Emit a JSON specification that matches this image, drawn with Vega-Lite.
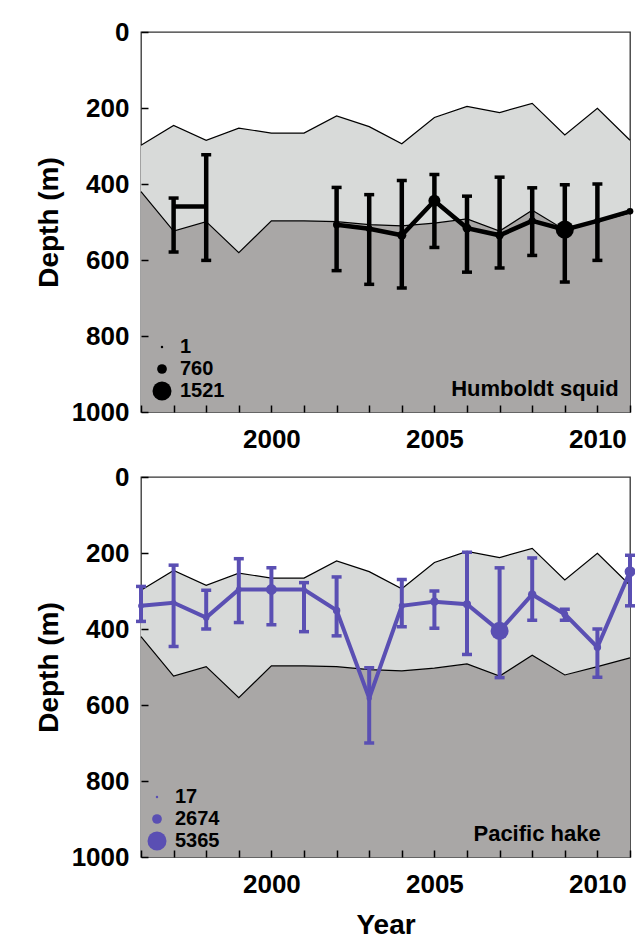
{
  "$schema": "https://vega.github.io/schema/vega-lite/v6.json",
  "background": "white",
  "padding": {"left": 34, "top": 18, "right": 5, "bottom": 5},
  "spacing": 65,
  "bounds": "flush",
  "resolve": {"scale": {"size": "independent"}, "legend": {"size": "independent"}},
  "datasets": {
    "boundary": [
      {"year": 1996, "upper": 298, "lower": 420},
      {"year": 1997, "upper": 246, "lower": 524},
      {"year": 1998, "upper": 285, "lower": 499},
      {"year": 1999, "upper": 253, "lower": 581},
      {"year": 2000, "upper": 266, "lower": 497},
      {"year": 2001, "upper": 266, "lower": 497},
      {"year": 2002, "upper": 221, "lower": 499},
      {"year": 2003, "upper": 249, "lower": 507},
      {"year": 2004, "upper": 294, "lower": 510},
      {"year": 2005, "upper": 225, "lower": 503},
      {"year": 2006, "upper": 196, "lower": 492},
      {"year": 2007, "upper": 212, "lower": 524},
      {"year": 2008, "upper": 188, "lower": 469},
      {"year": 2009, "upper": 271, "lower": 521},
      {"year": 2010, "upper": 201, "lower": 499},
      {"year": 2011, "upper": 285, "lower": 476}
    ],
    "squid": [
      {"year": 1997, "mean": 459, "lo": 437, "hi": 579, "n": 1, "seg": "a"},
      {"year": 1998, "mean": 459, "lo": 323, "hi": 601, "n": 1, "seg": "a"},
      {"year": 2002, "mean": 507, "lo": 409, "hi": 628, "n": 550, "seg": "b"},
      {"year": 2003, "mean": 518, "lo": 428, "hi": 664, "n": 500, "seg": "b"},
      {"year": 2004, "mean": 535, "lo": 391, "hi": 674, "n": 700, "seg": "b"},
      {"year": 2005, "mean": 444, "lo": 375, "hi": 567, "n": 950, "seg": "b"},
      {"year": 2006, "mean": 516, "lo": 432, "hi": 632, "n": 700, "seg": "b"},
      {"year": 2007, "mean": 535, "lo": 382, "hi": 621, "n": 650, "seg": "b"},
      {"year": 2008, "mean": 497, "lo": 410, "hi": 588, "n": 550, "seg": "b"},
      {"year": 2009, "mean": 520, "lo": 402, "hi": 658, "n": 1450, "seg": "b"},
      {"year": 2010, "mean": 497, "lo": 400, "hi": 601, "n": 450, "seg": "b"},
      {"year": 2011, "mean": 472, "lo": null, "hi": null, "n": 500, "seg": "b"}
    ],
    "hake": [
      {"year": 1996, "mean": 339, "lo": 288, "hi": 380, "n": 1500},
      {"year": 1997, "mean": 331, "lo": 232, "hi": 446, "n": 1400},
      {"year": 1998, "mean": 370, "lo": 298, "hi": 400, "n": 1700},
      {"year": 1999, "mean": 296, "lo": 215, "hi": 383, "n": 1500},
      {"year": 2000, "mean": 296, "lo": 239, "hi": 389, "n": 3000},
      {"year": 2001, "mean": 296, "lo": 278, "hi": 407, "n": 1300},
      {"year": 2002, "mean": 351, "lo": 263, "hi": 418, "n": 2000},
      {"year": 2003, "mean": 582, "lo": 502, "hi": 700, "n": 1300},
      {"year": 2004, "mean": 339, "lo": 270, "hi": 394, "n": 1600},
      {"year": 2005, "mean": 328, "lo": 300, "hi": 398, "n": 2200},
      {"year": 2006, "mean": 335, "lo": 198, "hi": 467, "n": 2200},
      {"year": 2007, "mean": 405, "lo": 239, "hi": 528, "n": 5100},
      {"year": 2008, "mean": 309, "lo": 213, "hi": 377, "n": 2300},
      {"year": 2009, "mean": 361, "lo": 348, "hi": 377, "n": 1800},
      {"year": 2010, "mean": 448, "lo": 400, "hi": 527, "n": 2000},
      {"year": 2011, "mean": 249, "lo": 206, "hi": 339, "n": 3000}
    ]
  },
  "config": {
    "view": {"stroke": "#333", "strokeWidth": 1.3},
    "font": "Liberation Sans",
    "axis": {
      "labelFont": "Liberation Sans", "labelFontSize": 26, "labelFontWeight": "bold", "labelColor": "#000",
      "titleFont": "Liberation Sans", "titleFontSize": 28, "titleFontWeight": "bold", "titleColor": "#000",
      "domain": false, "tickColor": "#000", "tickWidth": 1.5, "tickSize": 7, "offset": -7,
      "grid": false, "ticks": true
    },
    "axisY": {"labelPadding": 12, "titlePadding": 8},
    "axisX": {"labelPadding": 14, "titlePadding": 14},
    "legend": {
      "labelFont": "Liberation Sans", "labelFontSize": 20, "labelFontWeight": "bold", "labelColor": "#000",
      "orient": "bottom-left", "padding": 0, "rowPadding": 2, "labelOffset": 8, "symbolType": "circle",
      "symbolStrokeWidth": 0
    }
  },
  "vconcat": [
    {
      "width": 489, "height": 380,
      "encoding": {
        "x": {"field": "year", "type": "quantitative", "title": null,
          "scale": {"domain": [1996, 2011], "nice": false, "zero": false},
          "axis": {"zindex": 1, "values": [1996,1997,1998,1999,2000,2001,2002,2003,2004,2005,2006,2007,2008,2009,2010,2011], "format": "d",
            "labelExpr": "datum.value % 5 === 0 ? datum.label : ''"}}
      },
      "layer": [
        {"data": {"name": "boundary"}, "mark": {"type": "area", "color": "#a9a7a6"},
          "encoding": {
            "y": {"field": "lower", "type": "quantitative", "title": "Depth (m)",
              "scale": {"domain": [0, 1000], "reverse": true, "nice": false, "zero": false},
              "axis": {"zindex": 1, "values": [0,100,200,300,400,500,600,700,800,900,1000], "format": "d",
                "labelExpr": "datum.value % 200 === 0 ? datum.label : ''"}},
            "y2": {"datum": 1000}}},
        {"data": {"name": "boundary"}, "mark": {"type": "area", "color": "#d8dad9"},
          "encoding": {"y": {"field": "upper", "type": "quantitative", "title": "Depth (m)"}, "y2": {"field": "lower"}}},
        {"data": {"name": "boundary"}, "mark": {"type": "line", "color": "#000", "strokeWidth": 1.2},
          "encoding": {"y": {"field": "upper", "type": "quantitative", "title": "Depth (m)"}}},
        {"data": {"name": "boundary"}, "mark": {"type": "line", "color": "#000", "strokeWidth": 1.2},
          "encoding": {"y": {"field": "lower", "type": "quantitative", "title": "Depth (m)"}}},
        {"data": {"name": "squid"}, "mark": {"type": "rule", "color": "#000", "strokeWidth": 4.5},
          "encoding": {"y": {"field": "lo", "type": "quantitative", "title": "Depth (m)"}, "y2": {"field": "hi"}}},
        {"data": {"name": "squid"}, "mark": {"type": "tick", "orient": "horizontal", "color": "#000", "size": 10, "thickness": 3.5, "opacity": 1},
          "encoding": {"y": {"field": "lo", "type": "quantitative", "title": "Depth (m)"}}},
        {"data": {"name": "squid"}, "mark": {"type": "tick", "orient": "horizontal", "color": "#000", "size": 10, "thickness": 3.5, "opacity": 1},
          "encoding": {"y": {"field": "hi", "type": "quantitative", "title": "Depth (m)"}}},
        {"data": {"name": "squid"}, "mark": {"type": "line", "color": "#000", "strokeWidth": 4.5},
          "encoding": {"y": {"field": "mean", "type": "quantitative", "title": "Depth (m)"}, "detail": {"field": "seg"}}},
        {"data": {"name": "squid"}, "mark": {"type": "point", "shape": "circle", "filled": true, "color": "#000", "opacity": 1},
          "encoding": {
            "y": {"field": "mean", "type": "quantitative", "title": "Depth (m)"},
            "size": {"field": "n", "type": "quantitative",
              "scale": {"type": "pow", "exponent": 2, "domain": [0, 1521], "range": [6, 361]},
              "legend": {"title": null, "values": [1, 760, 1521], "format": "d", "offset": 11, "symbolFillColor": "#000"}}}},
        {"data": {"values": [{"label": "Humboldt squid", "year": 2010.65, "depth": 958}]},
          "mark": {"type": "text", "align": "right", "baseline": "alphabetic", "font": "Liberation Sans", "fontSize": 22, "fontWeight": "bold", "color": "#000"},
          "encoding": {"y": {"field": "depth", "type": "quantitative", "title": "Depth (m)"}, "text": {"field": "label"}}}
      ]
    },
    {
      "width": 489, "height": 380,
      "encoding": {
        "x": {"field": "year", "type": "quantitative", "title": "Year",
          "scale": {"domain": [1996, 2011], "nice": false, "zero": false},
          "axis": {"zindex": 1, "values": [1996,1997,1998,1999,2000,2001,2002,2003,2004,2005,2006,2007,2008,2009,2010,2011], "format": "d",
            "labelExpr": "datum.value % 5 === 0 ? datum.label : ''"}}
      },
      "layer": [
        {"data": {"name": "boundary"}, "mark": {"type": "area", "color": "#a9a7a6"},
          "encoding": {
            "y": {"field": "lower", "type": "quantitative", "title": "Depth (m)",
              "scale": {"domain": [0, 1000], "reverse": true, "nice": false, "zero": false},
              "axis": {"zindex": 1, "values": [0,100,200,300,400,500,600,700,800,900,1000], "format": "d",
                "labelExpr": "datum.value % 200 === 0 ? datum.label : ''"}},
            "y2": {"datum": 1000}}},
        {"data": {"name": "boundary"}, "mark": {"type": "area", "color": "#d8dad9"},
          "encoding": {"y": {"field": "upper", "type": "quantitative", "title": "Depth (m)"}, "y2": {"field": "lower"}}},
        {"data": {"name": "boundary"}, "mark": {"type": "line", "color": "#000", "strokeWidth": 1.2},
          "encoding": {"y": {"field": "upper", "type": "quantitative", "title": "Depth (m)"}}},
        {"data": {"name": "boundary"}, "mark": {"type": "line", "color": "#000", "strokeWidth": 1.2},
          "encoding": {"y": {"field": "lower", "type": "quantitative", "title": "Depth (m)"}}},
        {"data": {"name": "hake"}, "mark": {"type": "rule", "color": "#5a4fb3", "strokeWidth": 4},
          "encoding": {"y": {"field": "lo", "type": "quantitative", "title": "Depth (m)"}, "y2": {"field": "hi"}}},
        {"data": {"name": "hake"}, "mark": {"type": "tick", "orient": "horizontal", "color": "#5a4fb3", "size": 10, "thickness": 3.5, "opacity": 1},
          "encoding": {"y": {"field": "lo", "type": "quantitative", "title": "Depth (m)"}}},
        {"data": {"name": "hake"}, "mark": {"type": "tick", "orient": "horizontal", "color": "#5a4fb3", "size": 10, "thickness": 3.5, "opacity": 1},
          "encoding": {"y": {"field": "hi", "type": "quantitative", "title": "Depth (m)"}}},
        {"data": {"name": "hake"}, "mark": {"type": "line", "color": "#5a4fb3", "strokeWidth": 4},
          "encoding": {"y": {"field": "mean", "type": "quantitative", "title": "Depth (m)"}}},
        {"data": {"name": "hake"}, "mark": {"type": "point", "shape": "circle", "filled": true, "color": "#5a4fb3", "opacity": 1},
          "encoding": {
            "y": {"field": "mean", "type": "quantitative", "title": "Depth (m)"},
            "size": {"field": "n", "type": "quantitative",
              "scale": {"type": "pow", "exponent": 2, "domain": [0, 5365], "range": [6, 361]},
              "legend": {"title": null, "values": [17, 2674, 5365], "format": "d", "offset": 6, "symbolFillColor": "#5a4fb3"}}}},
        {"data": {"values": [{"label": "Pacific hake", "year": 2010.1, "depth": 958}]},
          "mark": {"type": "text", "align": "right", "baseline": "alphabetic", "font": "Liberation Sans", "fontSize": 22, "fontWeight": "bold", "color": "#000"},
          "encoding": {"y": {"field": "depth", "type": "quantitative", "title": "Depth (m)"}, "text": {"field": "label"}}}
      ]
    }
  ]
}
